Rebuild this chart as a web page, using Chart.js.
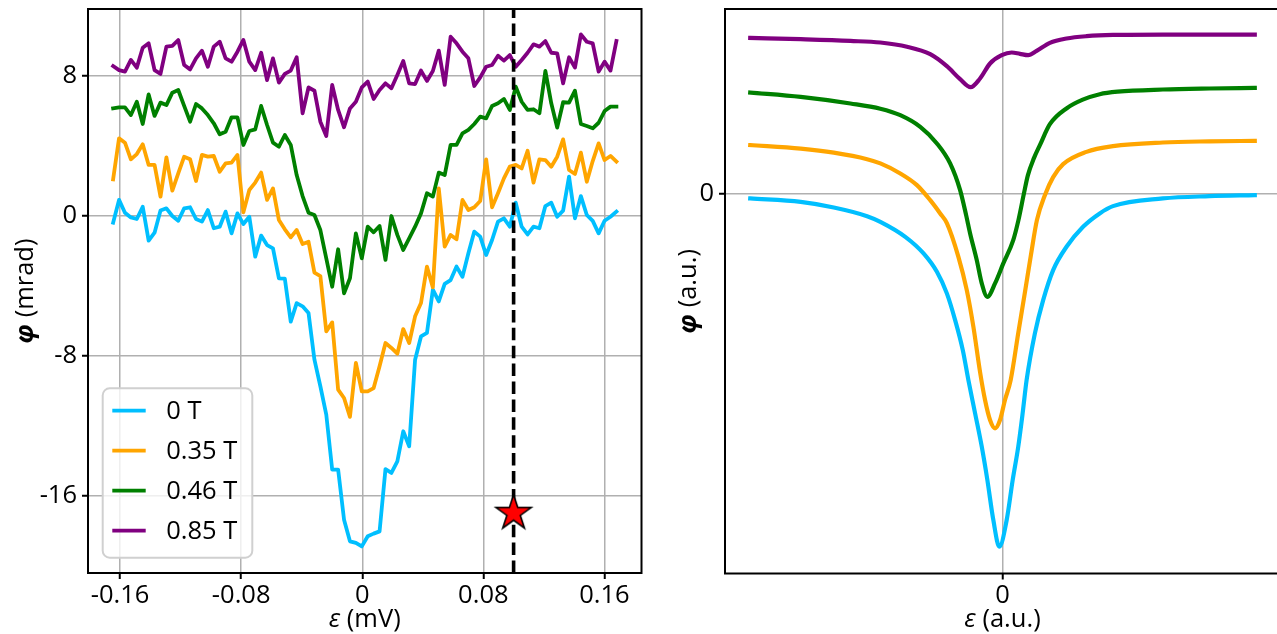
<!DOCTYPE html>
<html lang="en">
<head>
<meta charset="utf-8">
<title>Phase response vs detuning</title>
<script src="https://cdn.jsdelivr.net/npm/chart.js@4.4.1/dist/chart.umd.min.js"></script>
<style>
  html, body { margin: 0; padding: 0; background: #ffffff; width: 1277px; height: 634px; overflow: hidden; }
  canvas { position: absolute; top: 0; }
  #measured { left: 0; }
  #model { left: 660px; }
</style>
</head>
<body>
<canvas id="measured" width="660" height="634"></canvas>
<canvas id="model" width="630" height="634"></canvas>
<script>
// ---------- measured phase shift, one trace per magnetic field ----------
const fieldLabels = ['0 T', '0.35 T', '0.46 T', '0.85 T'];
const traceColors = ['#00bfff', '#ffa500', '#008000', '#800080'];

// detuning sweep (mV): first sample and step between samples
const epsStart = -0.1646;
const epsStep = 0.003912;

// phase shift (mrad)
const phi0T = [
  -0.40, 0.90, 0.17, -0.10, -0.19, 0.51, -1.43, -0.97, 0.29, 0.42,
  -0.02, -0.29, 0.42, 0.48, -0.19, -0.34, 0.32, -0.72, -0.63, 0.23,
  -1.01, 0.13, -0.48, -0.06, -2.34, -1.14, -1.68, -1.87, -3.58, -3.60,
  -6.06, -5.00, -5.18, -5.56, -8.23, -9.75, -11.37, -14.51, -14.51, -17.37,
  -18.61, -18.70, -18.90, -18.32, -18.17, -18.04, -14.48, -14.70, -14.04, -12.32,
  -13.18, -8.23, -6.90, -6.70, -4.23, -4.90, -3.90, -3.68, -2.91, -3.49,
  -2.15, -0.91, -1.20, -2.25, -1.39, -0.34, -0.15, -0.63, 0.74, -0.63,
  -1.07, -0.63, -0.72, 0.55, 0.74, -0.06, 0.29, 2.23, -0.15, 1.12,
  0.04, -0.30, -1.01, -0.29, -0.06, 0.23
];
const phi035T = [
  2.08, 4.42, 4.17, 3.22, 3.52, 4.08, 2.90, 2.90, 1.09, 3.33,
  1.43, 2.42, 3.37, 3.22, 1.98, 3.47, 3.37, 3.41, 2.51, 2.99,
  3.03, 3.47, 0.19, 1.47, 1.89, 2.46, 0.90, 1.56, -0.25, -0.78,
  -1.24, -0.82, -1.62, -1.49, -3.26, -3.45, -6.61, -6.10, -9.94, -10.42,
  -11.50, -8.42, -10.04, -10.04, -9.85, -8.61, -7.28, -7.56, -7.89, -6.48,
  -7.28, -5.75, -4.99, -2.91, -4.10, 1.56, -1.77, -1.10, -1.35, 0.90,
  0.32, 0.48, 0.84, 3.22, 0.48, 1.28, 2.13, 2.80, 2.90, 2.70,
  3.71, 1.89, 3.22, 3.18, 2.80, 3.37, 4.36, 2.61, 2.38, 3.60,
  1.94, 3.12, 4.13, 3.18, 3.41, 3.09
];
const phi046T = [
  6.13, 6.19, 6.19, 5.75, 6.51, 5.24, 6.93, 5.70, 6.46, 6.32,
  7.03, 7.18, 6.27, 5.37, 6.38, 6.13, 5.75, 5.28, 4.65, 4.80,
  5.62, 5.62, 4.04, 4.84, 4.93, 6.27, 5.18, 4.17, 3.94, 4.61,
  4.04, 2.32, 1.12, 0.17, 0.04, -0.82, -2.44, -4.06, -1.92, -4.44,
  -3.58, -1.01, -2.44, -0.63, -0.95, -0.59, -2.53, -0.02, -1.10, -1.96,
  -1.30, -0.63, 0.13, 1.28, 1.09, 2.46, 2.32, 4.04, 4.04, 4.70,
  4.90, 5.24, 5.66, 5.56, 6.27, 6.42, 6.67, 6.04, 7.37, 6.51,
  6.04, 6.08, 5.85, 8.27, 6.42, 5.03, 6.48, 6.46, 7.14, 5.24,
  5.12, 4.99, 5.31, 5.98, 6.23, 6.23
];
const phi085T = [
  8.55, 8.32, 8.23, 8.90, 8.46, 9.60, 9.85, 8.32, 8.10, 9.66,
  9.70, 10.04, 8.61, 8.36, 8.99, 9.43, 8.51, 9.66, 9.94, 8.99,
  8.80, 9.37, 10.04, 8.80, 8.32, 9.31, 7.75, 8.99, 7.60, 8.10,
  8.29, 9.05, 5.85, 7.33, 7.14, 5.37, 4.55, 7.47, 6.04, 5.05,
  6.13, 6.51, 7.33, 7.66, 6.67, 7.18, 7.56, 7.28, 8.04, 8.84,
  7.56, 7.52, 8.29, 7.70, 8.27, 9.43, 7.47, 10.23, 9.85, 9.37,
  8.99, 7.41, 7.90, 8.51, 8.61, 9.14, 8.86, 9.18, 8.51, 8.90,
  9.31, 9.79, 9.66, 9.98, 9.31, 9.28, 7.56, 9.05, 8.46, 10.36,
  9.94, 9.85, 8.23, 8.80, 8.29, 9.98
];

// working point marked on the 0 T trace
const markerEps = 0.1;
const markerPhi = -17;

const epsTicks = [-0.16, -0.08, 0, 0.08, 0.16];
const epsTickLabels = ['-0.16', '-0.08', '0', '0.08', '0.16'];
const phiTicks = [-16, -8, 0, 8];
const phiTickLabels = ['-16', '-8', '0', '8'];
const epsRange = [-0.1812, 0.1845];
const phiRange = [-20.42, 11.81];

// ---------- model curves (arbitrary units) ----------
const modelEps0 = [-5.0, -4.0, -3.344, -2.684, -2.421, -1.927, -1.565, -1.300, -1.103, -0.939, -0.787, -0.676, -0.543, -0.411, -0.300, -0.182, -0.063, 0.083, 0.202, 0.312, 0.399, 0.478, 0.642, 0.806, 1.004, 1.269, 1.597, 1.927, 2.190, 3.178, 4.101, 5.0];
const modelPhi0 = [-0.094, -0.158, -0.263, -0.426, -0.533, -0.814, -1.125, -1.470, -1.875, -2.376, -2.939, -3.501, -4.125, -4.752, -5.376, -6.126, -6.627, -6.126, -5.376, -4.752, -4.125, -3.501, -2.625, -2.001, -1.438, -1.001, -0.626, -0.375, -0.238, -0.094, -0.051, -0.032];

const modelEps035 = [-5.0, -4.0, -3.344, -2.684, -2.421, -2.026, -1.696, -1.433, -1.235, -1.103, -0.874, -0.708, -0.577, -0.445, -0.346, -0.247, -0.148, -0.049, 0.049, 0.162, 0.312, 0.445, 0.563, 0.682, 0.840, 1.004, 1.202, 1.664, 2.190, 3.178, 4.101, 5.0];
const modelPhi035 = [0.906, 0.840, 0.765, 0.643, 0.563, 0.375, 0.156, -0.126, -0.375, -0.557, -1.189, -1.813, -2.501, -3.350, -3.876, -4.251, -4.407, -4.251, -3.876, -3.501, -2.620, -1.851, -1.157, -0.501, -0.032, 0.306, 0.549, 0.780, 0.887, 0.956, 0.977, 0.986];

const modelEps046 = [-5.0, -4.0, -3.014, -2.421, -2.026, -1.630, -1.300, -1.038, -0.840, -0.721, -0.642, -0.510, -0.411, -0.300, -0.148, 0.016, 0.213, 0.316, 0.425, 0.504, 0.623, 0.741, 0.939, 1.275, 1.591, 1.927, 2.283, 3.178, 4.101, 5.0];
const modelPhi046 = [1.894, 1.811, 1.688, 1.590, 1.468, 1.249, 0.938, 0.563, 0.062, -0.407, -0.750, -1.251, -1.688, -1.939, -1.688, -1.313, -0.876, -0.501, 0.0, 0.343, 0.662, 0.906, 1.299, 1.599, 1.759, 1.862, 1.909, 1.950, 1.969, 1.980];

const modelEps085 = [-5.0, -4.0, -3.014, -2.421, -1.893, -1.433, -1.103, -0.840, -0.632, -0.445, -0.247, -0.016, 0.182, 0.346, 0.510, 0.676, 0.939, 1.269, 1.664, 2.190, 3.178, 4.101, 5.0];
const modelPhi085 = [2.918, 2.893, 2.861, 2.831, 2.753, 2.612, 2.387, 2.143, 1.993, 2.156, 2.438, 2.593, 2.644, 2.618, 2.593, 2.674, 2.824, 2.906, 2.950, 2.974, 2.981, 2.981, 2.981];

const modelTicks = [0];
const modelTickLabels = ['0'];
const modelEpsRange = [-5.5, 5.5];
const modelPhiRange = [-7.13, 3.46];

// ---------- shared styling ----------
const ink = '#000000';
const gridGray = '#b0b0b0';
const family = '"Open Sans", "Noto Sans", sans-serif';
const fontPx = 25.5;

const epsilon = phi0T.map((_, i) => +(epsStart + i * epsStep).toFixed(5));
const pairs = (xs, ys) => ys.map((y, i) => ({ x: xs[i], y }));

function linearAxis(range, ticks, labels, extent, horizontal) {
  return {
    type: 'linear',
    min: range[0],
    max: range[1],
    afterBuildTicks: s => { s.ticks = ticks.map(v => ({ value: v })); },
    afterFit: s => {
      if (horizontal) s.height = extent; else s.width = extent;
      // keep the plot box exactly where the layout padding puts it
      s.paddingTop = 0; s.paddingBottom = 0; s.paddingLeft = 0; s.paddingRight = 0;
    },
    ticks: {
      autoSkip: false, maxRotation: 0, minRotation: 0,
      padding: horizontal ? 1 : 5,
      color: ink,
      font: { family, size: fontPx },
      callback: (v, i) => labels[i]
    },
    grid: { color: gridGray, lineWidth: 1.5, tickColor: ink, tickWidth: 2, tickLength: 6 },
    border: { display: false }
  };
}

// five-pointed star used as the marker glyph
function starGlyph(R, fill, edge, lw) {
  const size = Math.ceil(2 * R + 2 * lw + 2);
  const c = document.createElement('canvas');
  c.width = size; c.height = size;
  const g = c.getContext('2d');
  const cx = size / 2, cy = size / 2, r = R * 0.381966;
  g.beginPath();
  for (let k = 0; k < 10; k++) {
    const a = -Math.PI / 2 + k * Math.PI / 5;
    const rr = k % 2 ? r : R;
    g.lineTo(cx + rr * Math.cos(a), cy + rr * Math.sin(a));
  }
  g.closePath();
  g.fillStyle = fill; g.fill();
  g.lineWidth = lw; g.lineJoin = 'miter'; g.strokeStyle = edge; g.stroke();
  return c;
}

// axes frame drawn over the traces
const framePlugin = {
  id: 'frame',
  afterDatasetsDraw(chart) {
    const { ctx, chartArea: a } = chart;
    ctx.save();
    ctx.strokeStyle = ink; ctx.lineWidth = 2;
    ctx.strokeRect(a.left, a.top, a.right - a.left, a.bottom - a.top);
    ctx.restore();
  }
};

// axis titles with an italic symbol followed by the unit
const titlePlugin = {
  id: 'mixedTitles',
  afterDraw(chart, args, opts) {
    const { ctx, chartArea: a } = chart;
    const symFont = w => `${w} ${fontPx}px ${family}`;
    const put = (sym, symStyle, rest, cx, cy, rotate) => {
      ctx.save();
      ctx.fillStyle = ink;
      ctx.textBaseline = 'alphabetic';
      ctx.textAlign = 'left';
      ctx.font = symFont(symStyle);
      const w1 = ctx.measureText(sym).width;
      ctx.font = symFont('normal');
      const w2 = ctx.measureText(rest).width;
      ctx.translate(cx, cy);
      if (rotate) ctx.rotate(-Math.PI / 2);
      const x0 = -(w1 + w2) / 2;
      ctx.font = symFont(symStyle);
      ctx.fillText(sym, x0, 0);
      ctx.font = symFont('normal');
      ctx.fillText(rest, x0 + w1, 0);
      ctx.restore();
    };
    put(opts.xSym, 'italic', opts.xRest, (a.left + a.right) / 2, opts.xBaseline, false);
    put(opts.ySym, 'italic bold', opts.yRest, opts.yBaseline, (a.top + a.bottom) / 2, true);
  }
};

// vertical dashed line through the marked working point, under the star
const guidePlugin = {
  id: 'guide',
  beforeDatasetDraw(chart, args) {
    if (chart.data.datasets[args.index].role !== 'marker') return;
    const { ctx, chartArea: a, scales } = chart;
    const x = scales.x.getPixelForValue(markerEps);
    ctx.save();
    ctx.strokeStyle = ink; ctx.lineWidth = 3.6;
    ctx.setLineDash([12.5, 5.4]);
    ctx.beginPath();
    ctx.moveTo(x, a.bottom);
    ctx.lineTo(x, a.top);
    ctx.stroke();
    ctx.restore();
  }
};

// boxed legend in the lower-left corner of the plot
const legendPlugin = {
  id: 'boxLegend',
  afterDraw(chart) {
    const { ctx, chartArea: a } = chart;
    const bx = a.left + 14.7, by = a.top + 379.3, bw = 149.6, bh = 169.4;
    ctx.save();
    ctx.beginPath();
    ctx.roundRect(bx, by, bw, bh, 7);
    ctx.fillStyle = 'rgba(255,255,255,0.8)';
    ctx.fill();
    ctx.strokeStyle = '#d0d0d0'; ctx.lineWidth = 2;
    ctx.stroke();
    fieldLabels.forEach((label, k) => {
      const y = by + 22.4 + k * 40;
      ctx.strokeStyle = traceColors[k]; ctx.lineWidth = 3.8; ctx.lineCap = 'butt';
      ctx.beginPath(); ctx.moveTo(bx + 9.6, y); ctx.lineTo(bx + 43, y); ctx.stroke();
      ctx.fillStyle = ink;
      ctx.font = `${fontPx}px ${family}`;
      ctx.textBaseline = 'middle'; ctx.textAlign = 'left';
      ctx.fillText(label, bx + 63.5, y + 1.5);
    });
    ctx.restore();
  }
};

const lineStyle = (color, order, width) => ({
  borderColor: color, backgroundColor: color, borderWidth: width,
  pointRadius: 0, tension: 0, fill: false,
  borderJoinStyle: 'round', borderCapStyle: 'square', order
});

// ---------- left panel: measurement ----------
new Chart(document.getElementById('measured'), {
  type: 'line',
  data: {
    datasets: [
      { label: fieldLabels[0], data: pairs(epsilon, phi0T), ...lineStyle(traceColors[0], 5, 3.8) },
      { label: fieldLabels[1], data: pairs(epsilon, phi035T), ...lineStyle(traceColors[1], 4, 3.8) },
      { label: fieldLabels[2], data: pairs(epsilon, phi046T), ...lineStyle(traceColors[2], 3, 3.8) },
      { label: fieldLabels[3], data: pairs(epsilon, phi085T), ...lineStyle(traceColors[3], 2, 3.8) },
      {
        // the star glyph is drawn at its own size; the small radius keeps the layout untouched
        label: 'working point', role: 'marker', order: 1,
        data: [{ x: markerEps, y: markerPhi }],
        showLine: false, pointRadius: 1, pointHoverRadius: 1, pointBorderWidth: 0,
        pointStyle: starGlyph(18.5, '#ff0000', '#000000', 1.6)
      }
    ]
  },
  options: {
    responsive: false, animation: false, devicePixelRatio: 1, events: [],
    layout: { padding: { top: 9, right: 18.5, left: 0, bottom: 0 } },
    plugins: {
      legend: { display: false }, tooltip: { enabled: false },
      mixedTitles: { xSym: 'ε', xRest: ' (mV)', ySym: 'φ', yRest: ' (mrad)', xBaseline: 627, yBaseline: 33 }
    },
    scales: {
      x: linearAxis(epsRange, epsTicks, epsTickLabels, 61, true),
      y: linearAxis(phiRange, phiTicks, phiTickLabels, 88, false)
    }
  },
  plugins: [framePlugin, titlePlugin, guidePlugin, legendPlugin]
});

// ---------- right panel: model ----------
const modelLine = (xs, ys, color, order) => ({
  data: pairs(xs, ys), ...lineStyle(color, order, 4.2),
  cubicInterpolationMode: 'monotone'
});

new Chart(document.getElementById('model'), {
  type: 'line',
  data: {
    datasets: [
      { label: fieldLabels[0], ...modelLine(modelEps0, modelPhi0, traceColors[0], 4) },
      { label: fieldLabels[1], ...modelLine(modelEps035, modelPhi035, traceColors[1], 3) },
      { label: fieldLabels[2], ...modelLine(modelEps046, modelPhi046, traceColors[2], 2) },
      { label: fieldLabels[3], ...modelLine(modelEps085, modelPhi085, traceColors[3], 1) }
    ]
  },
  options: {
    responsive: false, animation: false, devicePixelRatio: 1, events: [],
    layout: { padding: { top: 9, right: 10, left: 0, bottom: 0 } },
    plugins: {
      legend: { display: false }, tooltip: { enabled: false },
      mixedTitles: { xSym: 'ε', xRest: ' (a.u.)', ySym: 'φ', yRest: ' (a.u.)', xBaseline: 627, yBaseline: 36 }
    },
    scales: {
      x: linearAxis(modelEpsRange, modelTicks, modelTickLabels, 60.5, true),
      y: linearAxis(modelPhiRange, modelTicks, modelTickLabels, 65, false)
    }
  },
  plugins: [framePlugin, titlePlugin]
});
</script>
</body>
</html>
